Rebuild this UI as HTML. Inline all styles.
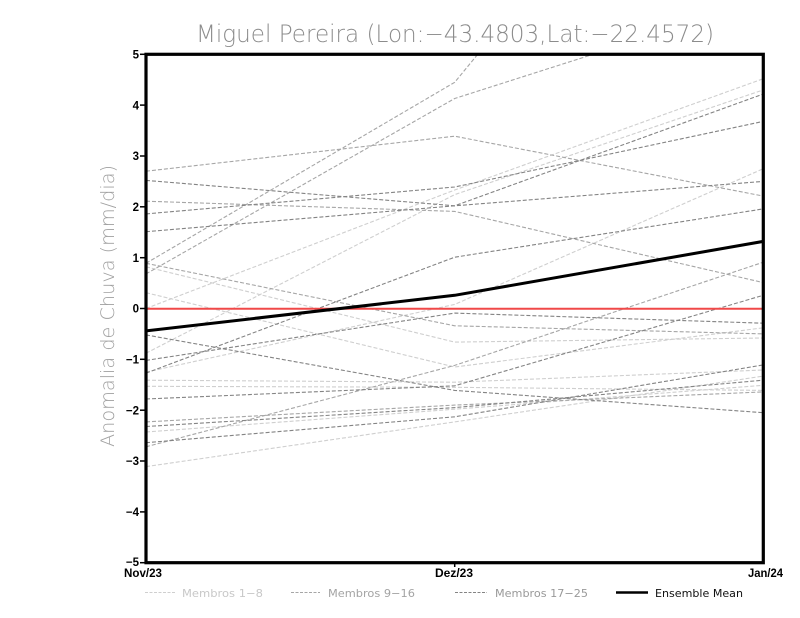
<!DOCTYPE html>
<html><head><meta charset="utf-8"><style>
html,body{margin:0;padding:0;background:#fff;}
svg{display:block;}
</style></head><body>
<svg width="800" height="618" viewBox="0 0 800 618" xmlns="http://www.w3.org/2000/svg">
<rect width="800" height="618" fill="#fff"/>
<defs><clipPath id="c"><rect x="146" y="54.3" width="617.3" height="508.4"/></clipPath></defs>
<text x="196" y="42" font-family="DejaVu Sans, Liberation Sans, sans-serif" font-weight="200" font-size="24" fill="#8c8c8c" textLength="518" lengthAdjust="spacingAndGlyphs">Miguel Pereira (Lon:−43.4803,Lat:−22.4572)</text>
<text transform="translate(114,306) rotate(-90)" text-anchor="middle" font-family="DejaVu Sans, Liberation Sans, sans-serif" font-weight="200" font-size="19" fill="#a0a0a0" textLength="282" lengthAdjust="spacingAndGlyphs">Anomalia de Chuva (mm/dia)</text>
<g clip-path="url(#c)" fill="none" stroke-width="1.1" stroke-dasharray="4 2">
<g stroke="#cfcfcf">
<polyline points="146,266.8 454.7,342.1 763.3,338.0"/>
<polyline points="146,292.7 454.7,367.0 763.3,327.8"/>
<polyline points="146,308.5 454.7,190.0 763.3,78.7"/>
<polyline points="146,353.2 454.7,194.6 763.3,89.9"/>
<polyline points="146,372.1 454.7,304.4 763.3,168.7"/>
<polyline points="146,380.2 454.7,382.2 763.3,370.0"/>
<polyline points="146,386.3 454.7,387.3 763.3,390.4"/>
<polyline points="146,432.0 454.7,409.2 763.3,385.3"/>
<polyline points="146,466.6 454.7,421.9 763.3,376.1"/>
</g>
<g stroke="#a6a6a6">
<polyline points="146,171.2 454.7,136.2 763.3,196.1"/>
<polyline points="146,201.2 454.7,211.4 763.3,282.6"/>
<polyline points="146,263.3 454.7,82.3 763.3,-292.6"/>
<polyline points="146,273.9 454.7,98.5 763.3,0"/>
<polyline points="146,263.3 454.7,325.8 763.3,333.9"/>
<polyline points="146,421.9 454.7,405.1 763.3,391.9"/>
<polyline points="146,446.8 454.7,365.4 763.3,262.2"/>
</g>
<g stroke="#848484">
<polyline points="146,180.4 454.7,205.8 763.3,181.4"/>
<polyline points="146,213.9 454.7,187.0 763.3,121.4"/>
<polyline points="146,231.7 454.7,205.8 763.3,94.0"/>
<polyline points="146,334.9 454.7,390.4 763.3,412.7"/>
<polyline points="146,360.4 454.7,313.1 763.3,323.2"/>
<polyline points="146,373.1 454.7,257.2 763.3,208.9"/>
<polyline points="146,399.0 454.7,385.8 763.3,295.3"/>
<polyline points="146,426.5 454.7,407.6 763.3,380.2"/>
<polyline points="146,442.7 454.7,416.8 763.3,364.9"/>
</g>
</g>
<line x1="146" y1="308.8" x2="763.3" y2="308.8" stroke="#f04848" stroke-width="2"/>
<polyline clip-path="url(#c)" points="146,330.9 454.7,295.3 763.3,241.4" fill="none" stroke="#000" stroke-width="3"/>
<rect x="146" y="54.3" width="617.3" height="508.4" fill="none" stroke="#000" stroke-width="3.2"/>
<g stroke="#000" stroke-width="1.5">
<line x1="140" y1="54.3" x2="146" y2="54.3"/>
<line x1="140" y1="105.1" x2="146" y2="105.1"/>
<line x1="140" y1="156" x2="146" y2="156"/>
<line x1="140" y1="206.8" x2="146" y2="206.8"/>
<line x1="140" y1="257.7" x2="146" y2="257.7"/>
<line x1="140" y1="308.5" x2="146" y2="308.5"/>
<line x1="140" y1="359.3" x2="146" y2="359.3"/>
<line x1="140" y1="410.2" x2="146" y2="410.2"/>
<line x1="140" y1="461" x2="146" y2="461"/>
<line x1="140" y1="511.9" x2="146" y2="511.9"/>
<line x1="140" y1="562.7" x2="146" y2="562.7"/>
<line x1="454.7" y1="562.7" x2="454.7" y2="567"/>
</g>
<g font-family="Liberation Sans, sans-serif" font-weight="bold" font-size="11.5" fill="#000" text-anchor="end">
<text x="139" y="58.5">5</text>
<text x="139" y="109.3">4</text>
<text x="139" y="160.2">3</text>
<text x="139" y="211">2</text>
<text x="139" y="261.9">1</text>
<text x="139" y="312.7">0</text>
<text x="139" y="363.5">−1</text>
<text x="139" y="414.4">−2</text>
<text x="139" y="465.2">−3</text>
<text x="139" y="516.1">−4</text>
<text x="139" y="566">−5</text>
</g>
<g font-family="Liberation Sans, sans-serif" font-weight="bold" font-size="11.5" fill="#000">
<text x="124" y="577" textLength="38" lengthAdjust="spacingAndGlyphs">Nov/23</text>
<text x="435" y="577" textLength="38" lengthAdjust="spacingAndGlyphs">Dez/23</text>
<text x="748" y="577" textLength="35" lengthAdjust="spacingAndGlyphs">Jan/24</text>
</g>
<g stroke-width="1.1" stroke-dasharray="3 1.5">
<line x1="145" y1="592.5" x2="176" y2="592.5" stroke="#cfcfcf"/>
<line x1="291" y1="592.5" x2="320" y2="592.5" stroke="#a6a6a6"/>
<line x1="455" y1="592.5" x2="487" y2="592.5" stroke="#848484"/>
</g>
<line x1="616" y1="592.5" x2="648" y2="592.5" stroke="#000" stroke-width="2.5"/>
<g font-family="DejaVu Sans, Liberation Sans, sans-serif" font-size="11">
<text x="182" y="597" fill="#c8c8c8" textLength="81" lengthAdjust="spacingAndGlyphs">Membros 1−8</text>
<text x="328" y="597" fill="#a4a4a4" textLength="87" lengthAdjust="spacingAndGlyphs">Membros 9−16</text>
<text x="495" y="597" fill="#999" textLength="93" lengthAdjust="spacingAndGlyphs">Membros 17−25</text>
<text x="655" y="597" fill="#111" textLength="88" lengthAdjust="spacingAndGlyphs">Ensemble Mean</text>
</g>
</svg>
</body></html>
